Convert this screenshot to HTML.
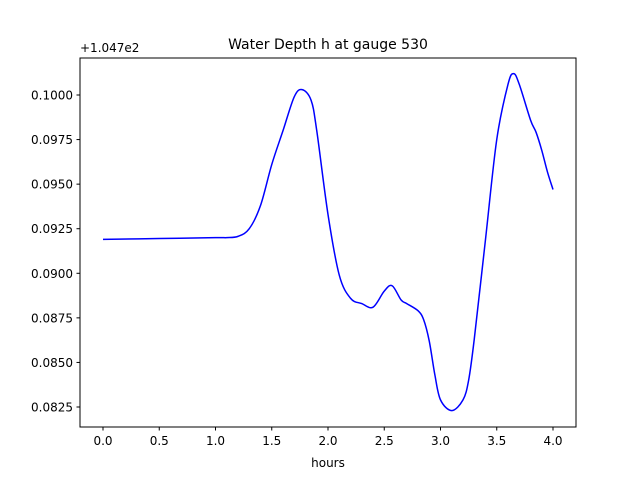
<!DOCTYPE html>
<html><head><meta charset="utf-8"><style>
body{margin:0;background:#fff}
svg text{font-family:"DejaVu Sans","Liberation Sans",sans-serif;fill:#000}
</style></head><body>
<svg id="chart" width="640" height="480" viewBox="0 0 640 480" xmlns="http://www.w3.org/2000/svg">
<rect width="640" height="480" fill="#fff"/>
<text x="328" y="49" font-size="14" text-anchor="middle">Water Depth h at gauge 530</text>
<text x="80" y="52" font-size="12">+1.047e2</text>
<text x="328" y="467" font-size="12" text-anchor="middle">hours</text>
<g id="ticks"></g>
<path id="line" fill="none" stroke="#0000ff" stroke-width="1.5"/>
<rect x="80" y="58" width="496" height="369" fill="none" stroke="#000" stroke-width="1"/>
</svg>
<script>
const hours=[0,0.5,1.0,1.1,1.2,1.3,1.4,1.5,1.6,1.7,1.77,1.85,1.9,2.0,2.1,2.2,2.3,2.4,2.5,2.57,2.65,2.7,2.8,2.85,2.9,2.95,3.0,3.1,3.2,3.25,3.3,3.4,3.5,3.6,3.65,3.7,3.8,3.85,3.9,3.95,4.0];
const depth=[0.0919,0.09195,0.0920,0.0920,0.09207,0.0925,0.0938,0.0961,0.0980,0.0999,0.1003,0.0997,0.0980,0.0933,0.0899,0.0886,0.0883,0.0881,0.0890,0.0893,0.0885,0.0883,0.0879,0.0874,0.0862,0.0843,0.0829,0.0823,0.0829,0.0840,0.0863,0.0919,0.0975,0.1006,0.1012,0.1006,0.0986,0.0979,0.0969,0.0957,0.0947];
const xTicks=[0,0.5,1.0,1.5,2.0,2.5,3.0,3.5,4.0];
const yTicks=[0.0825,0.0850,0.0875,0.0900,0.0925,0.0950,0.0975,0.1000];
const sx=v=>103+v*112.5;
const sy=v=>95+(0.1-v)*17829;
const NS="http://www.w3.org/2000/svg";
const g=document.getElementById('ticks');
xTicks.forEach(t=>{
 const l=document.createElementNS(NS,'line');
 
 
 l.setAttribute('x1',sx(t));l.setAttribute('x2',sx(t));l.setAttribute('y1',427);l.setAttribute('y2',430.5);l.setAttribute('stroke','#000');
 g.appendChild(l);
 const tx=document.createElementNS(NS,'text');
 
 
 tx.setAttribute('x',sx(t));tx.setAttribute('y',445);tx.setAttribute('font-size','12');tx.setAttribute('text-anchor','middle');
 tx.textContent=t.toFixed(1);g.appendChild(tx);
});
yTicks.forEach(t=>{
 const l=document.createElementNS(NS,'line');
 
 
 l.setAttribute('x1',76.5);l.setAttribute('x2',80);l.setAttribute('y1',sy(t));l.setAttribute('y2',sy(t));l.setAttribute('stroke','#000');
 g.appendChild(l);
 const tx=document.createElementNS(NS,'text');
 
 
 tx.setAttribute('x',73);tx.setAttribute('y',sy(t)+4.5);tx.setAttribute('font-size','12');tx.setAttribute('text-anchor','end');
 tx.textContent=t.toFixed(4);g.appendChild(tx);
});
const P=hours.map((h,i)=>[sx(h),sy(depth[i])]);
let d='M'+P[0][0]+','+P[0][1];
for(let i=0;i<P.length-1;i++){
 const p0=P[i-1]||P[i],p1=P[i],p2=P[i+1],p3=P[i+2]||P[i+1];
 const c1=[p1[0]+(p2[0]-p0[0])/6,p1[1]+(p2[1]-p0[1])/6];
 const c2=[p2[0]-(p3[0]-p1[0])/6,p2[1]-(p3[1]-p1[1])/6];
 d+=` C${c1[0]},${c1[1]} ${c2[0]},${c2[1]} ${p2[0]},${p2[1]}`;
}
document.getElementById('line').setAttribute('d',d);
</script>
</body></html>
